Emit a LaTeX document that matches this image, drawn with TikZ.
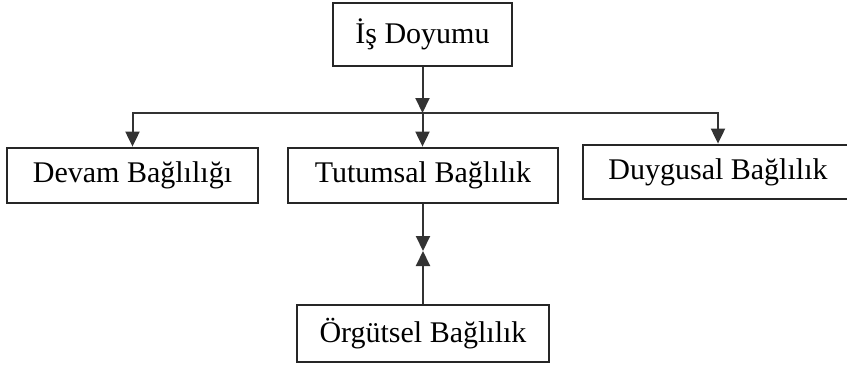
\documentclass[tikz,border=0pt]{standalone}
\usepackage{fontspec}
\setmainfont{Liberation Serif}
\usetikzlibrary{arrows.meta}

\tikzset{
  kutu/.style={draw=black!85, line width=1.4pt, minimum height=27.5pt,
    inner sep=0pt, font=\fontsize{15}{17}\selectfont},
  ok/.style={-{Triangle[width=7pt,length=7.5pt]}, draw=black!80, line width=1pt}
}

\begin{document}
\begin{tikzpicture}[x=0.5pt, y=-0.5pt]
      \useasboundingbox (0, 0) rectangle (847, 365);
      \node[kutu, minimum width=89.5pt, minimum height=31.5pt] (is) at (422.5, 34.5) {İş Doyumu};
      \node[kutu, minimum width=125.5pt] (devam) at (132.5, 175.5) {Devam Bağlılığı};
      \node[kutu, minimum width=135pt] (tutum) at (423, 175.5) {Tutumsal Bağlılık};
      % sag kutu resmin disina tasiyor
      \node[kutu, minimum width=145pt, minimum height=27pt] (duygu) at (728, 172) {\hspace*{-10pt}Duygusal Bağlılık};
      \node[kutu, minimum width=126pt, minimum height=28.5pt] (orgut) at (423, 333.5) {Örgütsel Bağlılık};
      \coordinate (mid) at (422.5, 113);
      \coordinate (meet) at (423, 251);
      \draw[ok] (is) -- (mid);
      \draw[ok] (mid) -| (devam);
      \draw[ok] (mid) -| ([xshift=-5pt]duygu.north);
      \draw[ok] (mid) -- (mid |- tutum.north);
      \draw[ok] (tutum) -- (meet);
      \draw[ok] (orgut) -- (meet);
\end{tikzpicture}
\end{document}
